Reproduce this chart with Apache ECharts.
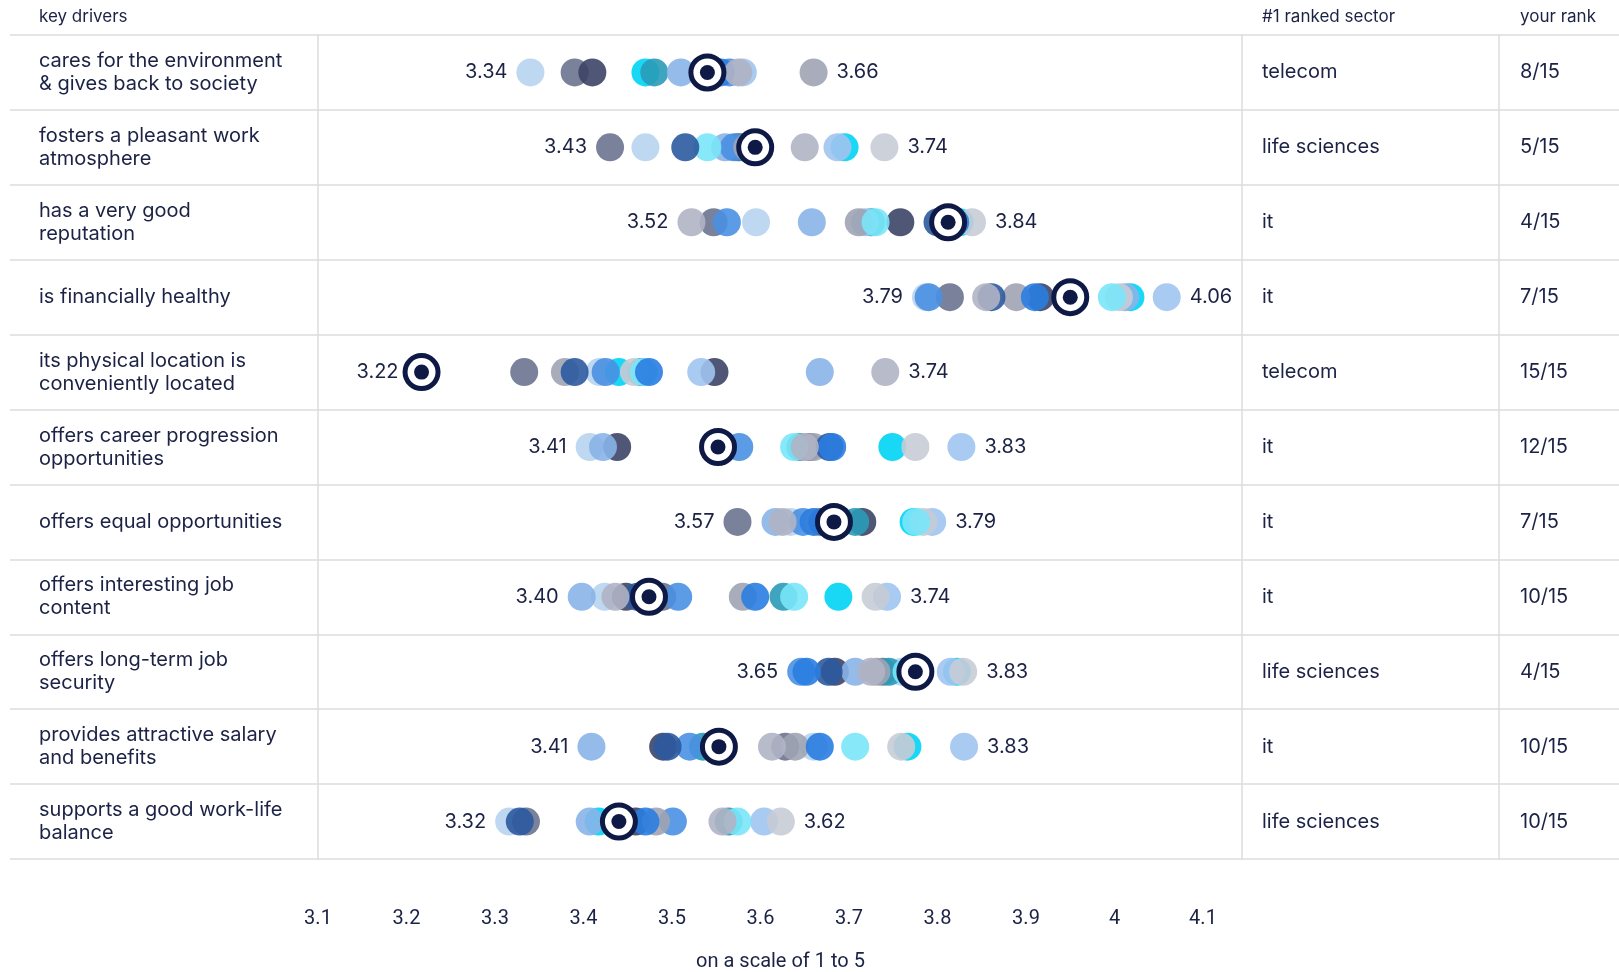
<!DOCTYPE html>
<html>
<head>
<meta charset="utf-8">
<title>key drivers</title>
<script src="https://cdn.jsdelivr.net/npm/echarts@6/dist/echarts.min.js"></script>
<style>
html, body { margin: 0; padding: 0; background: #fff; }
#chart { width: 1619px; height: 972px; }
</style>
</head>
<body>
<div id="chart"></div>
<script>
// key drivers (row labels, already wrapped like the original)
var drivers = [
    'cares for the environment\n& gives back to society',
    'fosters a pleasant work\natmosphere',
    'has a very good\nreputation',
    'is financially healthy',
    'its physical location is\nconveniently located',
    'offers career progression\nopportunities',
    'offers equal opportunities',
    'offers interesting job\ncontent',
    'offers long-term job\nsecurity',
    'provides attractive salary\nand benefits',
    'supports a good work-life\nbalance'
];

var topSector = ['telecom', 'life sciences', 'it', 'it', 'telecom', 'it', 'it', 'it', 'life sciences', 'it', 'life sciences'];
var yourRank = ['8/15', '5/15', '4/15', '7/15', '15/15', '12/15', '7/15', '10/15', '4/15', '10/15', '10/15'];

// your score per driver
var youScores = [3.54, 3.594, 3.812, 3.95, 3.217, 3.552, 3.683, 3.474, 3.775, 3.553, 3.44];

// scores of the other 14 sectors, one row per driver (same sector order in every row)
var rowScores = [
    [3.34, 3.39, 3.41, 3.47, 3.48, 3.51, 3.565, 3.58, 3.66, 3.545, 3.55, 3.535, 3.555, 3.575],
    [3.47, 3.43, 3.575, 3.695, 3.58, 3.56, 3.57, 3.687, 3.585, 3.74, 3.54, 3.515, 3.59, 3.65],
    [3.595, 3.547, 3.758, 3.825, 3.725, 3.658, 3.562, 3.718, 3.711, 3.839, 3.73, 3.80, 3.82, 3.522],
    [3.787, 3.814, 3.916, 4.018, 3.955, 4.012, 3.79, 4.059, 3.889, 4.005, 3.997, 3.861, 3.91, 3.855],
    [3.418, 3.333, 3.548, 3.44, 3.465, 3.667, 3.425, 3.533, 3.379, 3.457, 3.468, 3.39, 3.474, 3.741],
    [3.407, 3.655, 3.438, 3.749, 3.645, 3.422, 3.576, 3.827, 3.66, 3.775, 3.638, 3.678, 3.681, 3.65],
    [3.634, 3.574, 3.715, 3.773, 3.707, 3.617, 3.648, 3.794, 3.665, 3.784, 3.776, 3.67, 3.66, 3.625],
    [3.424, 3.489, 3.448, 3.688, 3.626, 3.398, 3.507, 3.743, 3.58, 3.73, 3.638, 3.461, 3.594, 3.436],
    [3.76, 3.738, 3.684, 3.822, 3.745, 3.707, 3.646, 3.815, 3.731, 3.829, 3.765, 3.677, 3.652, 3.725],
    [3.66, 3.628, 3.49, 3.766, 3.535, 3.409, 3.52, 3.83, 3.639, 3.759, 3.707, 3.495, 3.667, 3.613],
    [3.316, 3.335, 3.459, 3.417, 3.564, 3.407, 3.501, 3.604, 3.482, 3.623, 3.574, 3.328, 3.47, 3.557]
];

// axis
var axisMin = 3.1;
var axisMax = 4.1;
var axisStep = 0.1;

// one colour per sector
var sectorColors = ['#b8d4f0', '#6b7390', '#3d4466', '#00d4f5', '#2a9bb8', '#8ab4e8', '#4a90e2',
    '#a0c4f0', '#a0a4b4', '#c8ccd6', '#7ae6f8', '#2c5aa0', '#2a7de1', '#b0b4c4'];

var ink = '#1b2245';
var navy = '#0e1a45';
var lineColor = '#dcdcdc';
var tableFont = 'Inter, "Noto Sans", sans-serif';
var narrowFont = '"Liberation Sans Narrow", "Roboto", sans-serif';

var rowLow = drivers.map(function (d, r) { return Math.min.apply(null, rowScores[r].concat([youScores[r]])); });
var rowHigh = drivers.map(function (d, r) { return Math.max.apply(null, rowScores[r].concat([youScores[r]])); });

// table columns: 0 labels, 1 dots (value axis), 4 gap after axis, 2 sector, 3 rank
function makeGrid(left, width) {
    var g = { left: left, top: 35, bottom: 113, outerBoundsMode: 'none', containLabel: false };
    if (width == null) { g.right = 0; } else { g.width = width; }
    return g;
}
var grids = [
    makeGrid(10, 308),
    makeGrid(318, 885),
    makeGrid(1242, 257),
    makeGrid(1499, null),
    makeGrid(1203, 39)
];

function tableAxis(idx, texts, margin, showLine) {
    return {
        type: 'category',
        gridIndex: idx,
        data: drivers,
        inverse: true,
        axisTick: { show: false },
        axisLine: { show: showLine, lineStyle: { color: lineColor, width: 1.5 } },
        splitLine: { show: true, lineStyle: { color: lineColor, width: 1.5 } },
        axisLabel: {
            show: texts != null,
            inside: true,
            margin: margin,
            color: ink,
            fontFamily: tableFont,
            fontSize: 20,
            lineHeight: 23,
            formatter: function (v, i) { return texts ? texts[i] : ''; }
        }
    };
}

function hiddenX(idx) {
    return { type: 'value', gridIndex: idx, min: 0, max: 1, show: false };
}

var sectorSeries = sectorColors.map(function (color, s) {
    return {
        name: 'sector ' + (s + 1),
        type: 'scatter',
        xAxisIndex: 1,
        yAxisIndex: 1,
        symbolSize: 28,
        silent: true,
        z: 2,
        itemStyle: { color: color, opacity: 0.9 },
        data: drivers.map(function (d, r) { return [rowScores[r][s], r]; })
    };
});

function rangeLabel(values, side) {
    return {
        type: 'scatter',
        xAxisIndex: 1,
        yAxisIndex: 1,
        symbolSize: 28,
        silent: true,
        z: 7,
        itemStyle: { color: 'rgba(255,255,255,0)' },
        label: {
            show: true,
            position: side,
            distance: 9,
            color: ink,
            opacity: 1,
            fontFamily: tableFont,
            fontSize: 20,
            formatter: function (p) { return p.value[0].toFixed(2); }
        },
        data: values.map(function (v, r) { return [v, r]; })
    };
}

var headStyle = { color: ink, fontFamily: tableFont, fontSize: 17, fontWeight: 'normal' };

var option = {
    animation: false,
    title: [
        { text: 'key drivers', left: 39, top: 8, padding: 0, textStyle: headStyle },
        { text: '#1 ranked sector', left: 1262, top: 8, padding: 0, textStyle: headStyle },
        { text: 'your rank', left: 1520, top: 8, padding: 0, textStyle: headStyle }
    ],
    grid: grids,
    xAxis: [
        hiddenX(0),
        {
            type: 'value',
            gridIndex: 1,
            min: axisMin,
            max: axisMax,
            interval: axisStep,
            axisLine: { show: false },
            axisTick: { show: false },
            splitLine: { show: false },
            axisLabel: {
                margin: 50,
                color: ink,
                fontFamily: narrowFont,
                fontSize: 20,
                showMinLabel: true,
                showMaxLabel: true,
                formatter: function (v) { return String(+v.toFixed(1)); }
            },
            name: 'on a scale of 1 to 5',
            nameLocation: 'middle',
            nameGap: 93,
            // centred under the whole dot column, not only the axis span
            nameTextStyle: { color: ink, fontFamily: narrowFont, fontSize: 20, padding: [0, 0, 0, 40] }
        },
        hiddenX(2),
        hiddenX(3),
        hiddenX(4)
    ],
    yAxis: [
        tableAxis(0, drivers, 29, false),
        tableAxis(1, null, 0, true),
        tableAxis(2, topSector, 20, true),
        tableAxis(3, yourRank, 21, true),
        tableAxis(4, null, 0, false)
    ],
    series: sectorSeries.concat([
        {
            name: 'you',
            type: 'scatter',
            xAxisIndex: 1,
            yAxisIndex: 1,
            symbolSize: 33,
            silent: true,
            z: 5,
            itemStyle: { color: '#fff', borderColor: navy, borderWidth: 5, opacity: 1 },
            data: youScores.map(function (v, r) { return [v, r]; })
        },
        {
            name: 'you dot',
            type: 'scatter',
            xAxisIndex: 1,
            yAxisIndex: 1,
            symbolSize: 15,
            silent: true,
            z: 6,
            itemStyle: { color: navy, opacity: 1 },
            data: youScores.map(function (v, r) { return [v, r]; })
        },
        rangeLabel(rowLow, 'left'),
        rangeLabel(rowHigh, 'right')
    ])
};

var myChart = echarts.init(document.getElementById('chart'));
myChart.setOption(option);
</script>
</body>
</html>
